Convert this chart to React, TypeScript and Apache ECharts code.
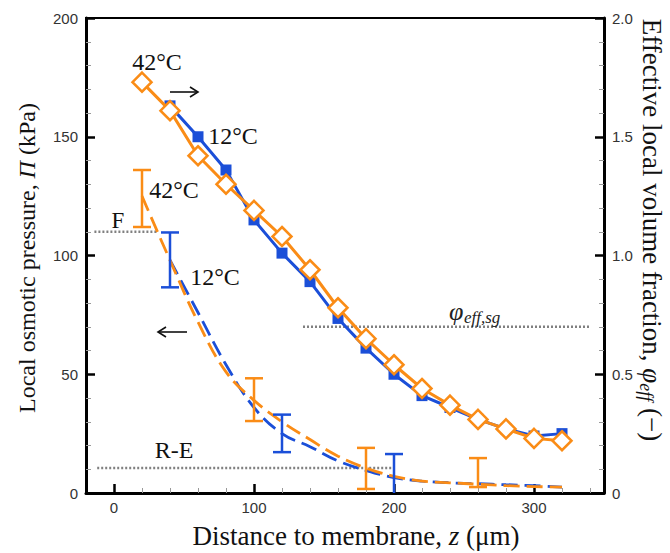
import React, { useEffect, useRef } from "react";
import * as echarts from "echarts";

// ---- data ----
const zSolid = [20, 40, 60, 80, 100, 120, 140, 160, 180, 200, 220, 240, 260, 280, 300, 320];
const phi42 = [1.73, 1.61, 1.42, 1.30, 1.19, 1.08, 0.94, 0.78, 0.65, 0.54, 0.44, 0.37, 0.31, 0.27, 0.23, 0.22];
const zBlue = [40, 60, 80, 100, 120, 140, 160, 180, 200, 220, 240, 260, 280, 300, 320];
const phi12 = [1.63, 1.50, 1.36, 1.15, 1.01, 0.89, 0.735, 0.61, 0.50, 0.41, 0.36, 0.31, 0.27, 0.24, 0.25];

const zPi42 = [20, 40, 60, 80, 100, 120, 140, 160, 180, 200, 220, 240, 260, 280, 300, 320];
const pi42 = [125, 98, 72, 51, 39, 30, 22.5, 15.5, 10.5, 7, 5, 4.3, 3.7, 3.1, 2.7, 2.5];
const zPi12 = [40, 60, 80, 100, 120, 140, 160, 180, 200, 220, 240, 260, 280, 300, 320];
const pi12 = [98, 76, 54, 36, 25, 19.5, 13.5, 9.5, 6.5, 5, 4.3, 3.9, 3.5, 3.1, 2.5];

// error bars: [z, low, high]
const err42 = [
  [20, 112, 136],
  [100, 30.3, 48.3],
  [180, 1.7, 19],
  [260, 2.5, 14.7],
];
const err12 = [
  [40, 86.6, 109.7],
  [120, 17.2, 33],
  [200, 0, 16.4],
];

// reference lines
const lineF = [[-14, 110], [31, 110]];
const lineRE = [[-12, 10.5], [200, 10.5]];
const linePhiSg = [[135, 0.7], [340, 0.7]];

const xMajor = [0, 100, 200, 300];
const xMinor = [20, 40, 60, 80, 120, 140, 160, 180, 220, 240, 260, 280, 320, 340];

const BLUE = "#1B4FD8";
const ORANGE = "#FA8C16";
const GRAY = "#808080";
const SERIF = "'Liberation Serif', 'Times New Roman', serif";
const SANS = "'Liberation Sans', Arial, sans-serif";

const zip = (xs: number[], ys: number[]) => xs.map((x, i) => [x, ys[i]]);

const errRender = (color: string) => (params: any, api: any) => {
  const x = api.value(0);
  const lo = api.value(1);
  const hi = api.value(2);
  const pLo = api.coord([x, lo]);
  const pHi = api.coord([x, hi]);
  const hw = 9;
  const st = { stroke: color, lineWidth: 2.5 };
  const children: any[] = [
    { type: "line", shape: { x1: pHi[0], y1: pHi[1], x2: pLo[0], y2: pLo[1] }, style: st },
    { type: "line", shape: { x1: pHi[0] - hw, y1: pHi[1], x2: pHi[0] + hw, y2: pHi[1] }, style: st },
  ];
  if (lo > 0.5) {
    children.push({ type: "line", shape: { x1: pLo[0] - hw, y1: pLo[1], x2: pLo[0] + hw, y2: pLo[1] }, style: st });
  }
  return { type: "group", children };
};

export default function App() {
  const ref = useRef<HTMLDivElement>(null);
  useEffect(() => {
    if (!ref.current) return;
    const chart = echarts.init(ref.current, undefined, { renderer: "svg" });
    const refLine = (data: number[][], yIdx: number) => ({
      type: "line",
      yAxisIndex: yIdx,
      data,
      symbol: "none",
      silent: true,
      lineStyle: { color: GRAY, width: 2.5, type: [2, 2] },
      z: 1,
    });
    const axisLabel = { fontSize: 15, color: "#333", fontFamily: SANS };
    const label = (text: string, x: number, y: number, size = 24) => ({
      type: "text",
      x,
      y,
      style: { text, font: `${size}px ${SERIF}`, fill: "#111", align: "center", verticalAlign: "middle" },
      z: 100,
    });
    const arrow = (x1: number, x2: number, y: number) => {
      const dir = x2 > x1 ? 1 : -1;
      return {
        type: "group",
        z: 100,
        children: [
          { type: "line", shape: { x1, y1: y, x2, y2: y }, style: { stroke: "#111", lineWidth: 1.6 } },
          {
            type: "polyline",
            shape: { points: [[x2 - dir * 8, y - 5], [x2, y], [x2 - dir * 8, y + 5]] },
            style: { stroke: "#111", lineWidth: 1.6, fill: null },
          },
        ],
      };
    };
    chart.setOption({
      animation: false,
      backgroundColor: "#fff",
      grid: { left: 86, right: 66, top: 18, bottom: 60, show: true, borderColor: "#000", borderWidth: 2, containLabel: false },
      xAxis: [
        {
          type: "value",
          min: -20,
          max: 350,
          position: "bottom",
          axisLine: { show: true, onZero: false, lineStyle: { color: "#000", width: 3 } },
          axisTick: { show: true, inside: true, length: 9, lineStyle: { color: "#000", width: 2.5 }, customValues: xMajor },
          axisLabel: { ...axisLabel, margin: 7, customValues: xMajor },
          splitLine: { show: false },
        },
        {
          type: "value",
          min: -20,
          max: 350,
          position: "bottom",
          offset: 0,
          axisLine: { show: false, onZero: false },
          axisTick: { show: true, inside: true, length: 5, lineStyle: { color: "#999", width: 1 }, customValues: xMinor },
          axisLabel: { show: false },
          splitLine: { show: false },
        },
      ],
      yAxis: [
        {
          type: "value",
          min: 0,
          max: 200,
          interval: 50,
          position: "left",
          axisLine: { show: true, onZero: false, lineStyle: { color: "#000", width: 3 } },
          axisTick: { show: true, inside: true, length: 9, lineStyle: { color: "#000", width: 2.5 } },
          minorTick: { show: true, splitNumber: 5, length: 5, lineStyle: { color: "#999", width: 1 } },
          axisLabel: { ...axisLabel, margin: 8 },
          splitLine: { show: false },
          minorSplitLine: { show: false },
        },
        {
          type: "value",
          min: 0,
          max: 2,
          interval: 0.5,
          position: "right",
          axisLine: { show: true, onZero: false, lineStyle: { color: "#000", width: 3 } },
          axisTick: { show: true, inside: true, length: 9, lineStyle: { color: "#000", width: 2.5 } },
          minorTick: { show: true, splitNumber: 5, length: 5, lineStyle: { color: "#999", width: 1 } },
          axisLabel: { ...axisLabel, margin: 8, formatter: (v: number) => (v === 0 ? "0" : v.toFixed(1)) },
          splitLine: { show: false },
          minorSplitLine: { show: false },
        },
      ],
      series: [
        refLine(lineF, 0),
        refLine(lineRE, 0),
        refLine(linePhiSg, 1),
        {
          type: "line",
          yAxisIndex: 0,
          data: zip(zPi12, pi12),
          smooth: 0.4,
          symbol: "none",
          lineStyle: { color: BLUE, width: 2.8, type: [16, 7] },
          z: 3,
        },
        {
          type: "line",
          yAxisIndex: 0,
          data: zip(zPi42, pi42),
          smooth: 0.4,
          symbol: "none",
          lineStyle: { color: ORANGE, width: 2.8, type: [16, 7] },
          z: 4,
        },
        {
          type: "custom",
          yAxisIndex: 0,
          data: err12,
          encode: { x: 0, y: [1, 2] },
          renderItem: errRender(BLUE),
          z: 5,
        },
        {
          type: "custom",
          yAxisIndex: 0,
          data: err42,
          encode: { x: 0, y: [1, 2] },
          renderItem: errRender(ORANGE),
          z: 5,
        },
        {
          type: "line",
          yAxisIndex: 1,
          data: zip(zBlue, phi12),
          symbol: "rect",
          symbolSize: 11,
          itemStyle: { color: BLUE },
          lineStyle: { color: BLUE, width: 3 },
          z: 6,
        },
        {
          type: "line",
          yAxisIndex: 1,
          data: zip(zSolid, phi42),
          symbol: "diamond",
          symbolSize: 19,
          itemStyle: { color: "#fff", borderColor: ORANGE, borderWidth: 2.5 },
          lineStyle: { color: ORANGE, width: 3 },
          z: 7,
        },
      ],
      graphic: [
        label("42°C", 157, 62),
        label("12°C", 233, 136),
        label("42°C", 174, 190),
        label("F", 118, 220, 23),
        label("12°C", 215, 277),
        label("R-E", 174, 450),
        arrow(170, 198, 92),
        arrow(187, 158, 332),
        {
          type: "text",
          x: 449,
          y: 311,
          style: { text: "φ", font: `italic 26px ${SERIF}`, fill: "#222", align: "left", verticalAlign: "middle" },
          z: 100,
        },
        {
          type: "text",
          x: 464,
          y: 317,
          style: { text: "eff,sg", font: `italic 17px ${SERIF}`, fill: "#222", align: "left", verticalAlign: "middle" },
          z: 100,
        },
        {
          type: "text",
          x: 27,
          y: 258,
          rotation: Math.PI / 2,
          style: {
            text: "{n|Local osmotic pressure, }{i|Π}{n| (kPa)}",
            align: "center",
            verticalAlign: "middle",
            rich: {
              n: { font: `24px ${SERIF}`, fill: "#111" },
              i: { font: `italic 24px ${SERIF}`, fill: "#111" },
            },
          },
          z: 100,
        },
        {
          type: "text",
          x: 652,
          y: 230,
          rotation: -Math.PI / 2,
          style: {
            text: "{n|Effective local volume fraction, }{i|φ}{s|eff}{n| (−)}",
            align: "center",
            verticalAlign: "middle",
            rich: {
              n: { font: `27px ${SERIF}`, fill: "#111", lineHeight: 30 },
              i: { font: `italic 27px ${SERIF}`, fill: "#111", lineHeight: 30 },
              s: { font: `italic 18px ${SERIF}`, fill: "#111", lineHeight: 18, verticalAlign: "bottom" },
            },
          },
          z: 100,
        },
        {
          type: "text",
          x: 356,
          y: 536,
          style: {
            text: "{n|Distance to membrane, }{i|z}{n| (μm)}",
            align: "center",
            verticalAlign: "middle",
            rich: {
              n: { font: `27px ${SERIF}`, fill: "#111", lineHeight: 28 },
              i: { font: `italic 27px ${SERIF}`, fill: "#111", lineHeight: 28 },
            },
          },
          z: 100,
        },
      ],
    });
    return () => chart.dispose();
  }, []);
  return <div ref={ref} style={{ width: 670, height: 553, position: "absolute", left: 0, top: 0 }} />;
}
